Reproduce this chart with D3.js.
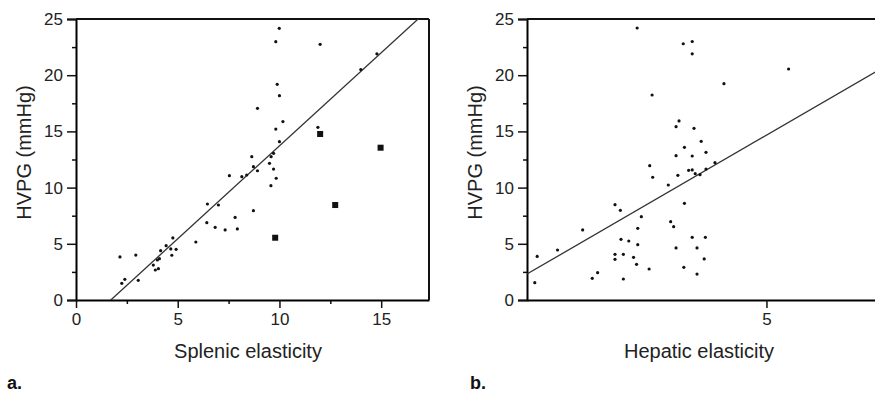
<!DOCTYPE html>
<html>
<head>
<meta charset="utf-8">
<script src="https://cdn.jsdelivr.net/npm/d3@7"></script>
<style>
  body { margin: 0; background: #fff; }
  svg { display: block; }
  .tick text { font-family: "Liberation Sans", Arial, sans-serif; font-size: 17px; fill: #222; }
  .title { font-family: "Liberation Sans", Arial, sans-serif; font-size: 20px; fill: #222; }
  .panel { font-family: "Liberation Sans Narrow", "Liberation Sans", Arial, sans-serif; font-size: 18px; font-weight: bold; fill: #111; }
</style>
</head>
<body>
<svg width="875" height="394"></svg>
<script>
// panel a: splenic elasticity vs HVPG
const splenicDots = [
  [9.99, 24.17], [9.82, 22.98], [12.0, 22.75], [14.79, 21.9], [14.0, 20.5], [9.89, 19.19],
  [10.0, 18.18], [8.92, 17.05], [10.17, 15.87], [9.82, 15.21], [11.89, 15.36], [10.0, 14.09],
  [8.64, 12.75], [9.59, 12.75], [9.71, 13.05], [9.51, 12.16], [8.72, 11.86], [8.92, 11.5],
  [9.71, 11.65], [7.54, 11.06], [8.15, 10.97], [8.39, 11.12], [9.84, 10.83], [9.58, 10.17],
  [6.46, 8.54], [7.0, 8.45], [8.72, 7.95], [7.82, 7.35], [6.43, 6.88], [6.84, 6.47],
  [7.33, 6.23], [7.93, 6.32], [5.89, 5.16], [4.76, 5.52], [4.43, 4.83], [4.66, 4.54],
  [4.92, 4.51], [4.16, 4.39], [4.71, 3.98], [2.16, 3.83], [2.94, 4.0], [3.8, 3.11],
  [4.0, 3.56], [4.1, 3.68], [3.9, 2.67], [4.05, 2.79], [2.4, 1.84], [2.25, 1.48], [3.06, 1.75]
];
const splenicSquares = [[12.0, 14.77], [14.97, 13.55], [12.74, 8.45], [9.79, 5.54]];
const splenicFit = { slope: 1.655, intercept: -2.83 };
const splenicTicks = [0, 5, 10, 15];
const splenicMinor = [2.5, 7.5, 12.5];

// panel b: hepatic elasticity vs HVPG
const hepaticDots = [
  [2.84, 24.2], [3.09, 18.24], [3.49, 15.42], [3.54, 15.93], [3.49, 12.84], [3.61, 22.8],
  [3.76, 23.0], [3.76, 21.9], [5.37, 20.55], [4.29, 19.25], [3.79, 15.27], [3.91, 14.12],
  [3.63, 13.58], [3.76, 12.81], [3.99, 13.14], [4.14, 12.22], [3.99, 11.65], [3.70, 11.54],
  [3.76, 11.57], [3.81, 11.24], [3.89, 11.15], [3.52, 11.09], [3.36, 10.23], [3.63, 8.6],
  [3.40, 6.97], [3.45, 6.52], [3.76, 5.58], [3.98, 5.58], [3.49, 4.63], [3.84, 4.63],
  [3.96, 3.65], [3.62, 2.91], [3.84, 2.31], [1.13, 1.54], [1.17, 3.88], [1.51, 4.45],
  [1.93, 6.23], [2.09, 1.93], [2.18, 2.43], [2.47, 8.48], [2.56, 7.98], [2.91, 7.41],
  [2.85, 6.38], [2.57, 5.4], [2.70, 5.25], [2.85, 4.92], [2.47, 4.06], [2.61, 4.06],
  [2.47, 3.62], [2.78, 3.8], [2.83, 3.17], [2.61, 1.87], [3.04, 2.76], [3.05, 11.95], [3.10, 10.92]
];
const hepaticFit = { slope: 3.09, intercept: -0.78 };
const hepaticTicks = [5];

const hvpgTicks = [0, 5, 10, 15, 20, 25];
const hvpgMinor = [2.5, 7.5, 12.5, 17.5, 22.5];

const svg = d3.select('svg');
const plotTop = 19, plotBottom = 300;

const y = d3.scaleLinear().domain([0, 25]).range([plotBottom, plotTop]);

function drawPanel(opts) {
  const x = d3.scaleLinear().domain(opts.domain).range(opts.range);
  const g = svg.append('g');
  const clipId = 'clip-' + opts.id;

  g.append('clipPath').attr('id', clipId)
    .append('rect')
    .attr('x', opts.range[0]).attr('y', plotTop)
    .attr('width', opts.range[1] - opts.range[0]).attr('height', plotBottom - plotTop);

  // minor ticks first
  g.append('g')
    .attr('transform', `translate(${opts.range[0]},0)`)
    .call(d3.axisLeft(y).tickValues(hvpgMinor).tickSize(4).tickFormat(''))
    .call(a => a.select('.domain').remove());
  if (opts.minor) {
    g.append('g')
      .attr('transform', `translate(0,${plotBottom})`)
      .call(d3.axisBottom(x).tickValues(opts.minor).tickSize(4).tickFormat(''))
      .call(a => a.select('.domain').remove());
  }

  // y axis
  g.append('g')
    .attr('transform', `translate(${opts.range[0]},0)`)
    .call(d3.axisLeft(y).tickValues(hvpgTicks).tickSize(9).tickPadding(4).tickFormat(d3.format('d')))
    .call(a => a.select('.domain').attr('stroke-width', 2));

  // x axis
  g.append('g')
    .attr('transform', `translate(0,${plotBottom})`)
    .call(d3.axisBottom(x).tickValues(opts.ticks).tickSize(8).tickPadding(5).tickSizeOuter(0).tickFormat(d3.format('d')))
    .call(a => a.select('.domain').attr('stroke-width', 2));

  g.selectAll('.tick line').attr('stroke', '#111').attr('stroke-width', 1.5);

  // frame: top (and right if present)
  g.append('line')
    .attr('x1', opts.range[0]).attr('x2', opts.range[1])
    .attr('y1', plotTop).attr('y2', plotTop)
    .attr('stroke', '#111').attr('stroke-width', 2);
  if (opts.rightBorder) {
    g.append('line')
      .attr('x1', opts.range[1]).attr('x2', opts.range[1])
      .attr('y1', plotTop).attr('y2', plotBottom)
      .attr('stroke', '#111').attr('stroke-width', 2);
  }

  // regression line
  const [x0, x1] = opts.domain;
  g.append('line')
    .attr('clip-path', `url(#${clipId})`)
    .attr('x1', x(x0)).attr('y1', y(opts.fit.slope * x0 + opts.fit.intercept))
    .attr('x2', x(x1)).attr('y2', y(opts.fit.slope * x1 + opts.fit.intercept))
    .attr('stroke', '#333').attr('stroke-width', 1.3);

  g.selectAll('.dot')
    .data(opts.dots)
    .enter()
    .append('circle')
    .attr('class', 'dot')
    .attr('cx', d => x(d[0]))
    .attr('cy', d => y(d[1]))
    .attr('r', 1.6)
    .attr('fill', '#111');

  if (opts.squares) {
    g.selectAll('.sq')
      .data(opts.squares)
      .enter()
      .append('rect')
      .attr('class', 'sq')
      .attr('x', d => x(d[0]) - 3)
      .attr('y', d => y(d[1]) - 3)
      .attr('width', 6)
      .attr('height', 6)
      .attr('fill', '#111');
  }

  // titles
  g.append('text').attr('class', 'title')
    .attr('x', opts.titleX).attr('y', 358)
    .attr('text-anchor', 'middle')
    .text(opts.xTitle);

  g.append('text').attr('class', 'title')
    .attr('transform', `translate(${opts.range[0] - 45},${(plotTop + plotBottom) / 2 - 7}) rotate(-90)`)
    .attr('text-anchor', 'middle')
    .text('HVPG (mmHg)');

  g.append('text').attr('class', 'panel')
    .attr('x', opts.labelX).attr('y', 389)
    .text(opts.label);
}

drawPanel({
  id: 'a', domain: [0, 17.35], range: [76, 429],
  ticks: splenicTicks, minor: splenicMinor,
  dots: splenicDots, squares: splenicSquares, fit: splenicFit,
  rightBorder: true, xTitle: 'Splenic elasticity', titleX: 248,
  label: 'a.', labelX: 7
});

drawPanel({
  id: 'b', domain: [1, 6.83], range: [527, 876],
  ticks: hepaticTicks, minor: null,
  dots: hepaticDots, squares: null, fit: hepaticFit,
  rightBorder: false, xTitle: 'Hepatic elasticity', titleX: 699,
  label: 'b.', labelX: 470
});
</script>
</body>
</html>
